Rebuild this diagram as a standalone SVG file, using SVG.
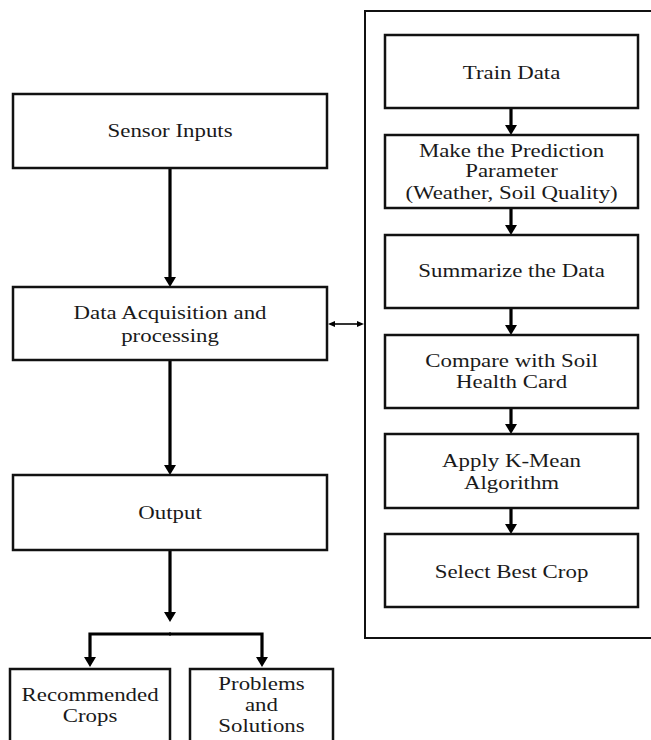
<svg xmlns="http://www.w3.org/2000/svg" width="651" height="740" viewBox="0 0 651 740">
<style>
.box{fill:#fff;stroke:#111;stroke-width:2.5}
.frame{fill:none;stroke:#111;stroke-width:2}
.thick{fill:none;stroke:#000;stroke-width:3.2}
.thin{fill:none;stroke:#000;stroke-width:1.6}
text{font-family:"Liberation Serif","Times New Roman",serif;font-size:18px;fill:#1a1a1a;text-anchor:middle}
</style>
<defs>
<marker id="ah" viewBox="0 0 10 12" markerWidth="10" markerHeight="12" refX="1" refY="6" orient="auto" markerUnits="userSpaceOnUse">
<path d="M0,0 L10,6 L0,12 z" fill="#000"/>
</marker>
<marker id="sh" viewBox="0 0 7 6" markerWidth="7" markerHeight="6" refX="1" refY="3" orient="auto-start-reverse" markerUnits="userSpaceOnUse">
<path d="M0,0 L7,3 L0,6 z" fill="#000"/>
</marker>
</defs>
<rect width="651" height="740" fill="#fff"/>
<g id="container"><rect class="frame" x="365" y="11" width="300" height="627"/></g>
<g id="connectors">
<line class="thick" x1="170" y1="168" x2="170" y2="278" marker-end="url(#ah)"/>
<line class="thick" x1="170" y1="360" x2="170" y2="466" marker-end="url(#ah)"/>
<line class="thick" x1="170" y1="550" x2="170" y2="613" marker-end="url(#ah)"/>
<path class="thick" d="M171,634 H90 V658" marker-end="url(#ah)"/>
<path class="thick" d="M169,634 H262 V658" marker-end="url(#ah)"/>
<line class="thin" x1="334" y1="324" x2="358" y2="324" marker-start="url(#sh)" marker-end="url(#sh)"/>
<line class="thick" x1="511" y1="108" x2="511" y2="126" marker-end="url(#ah)"/>
<line class="thick" x1="511" y1="208" x2="511" y2="226" marker-end="url(#ah)"/>
<line class="thick" x1="511" y1="308" x2="511" y2="326" marker-end="url(#ah)"/>
<line class="thick" x1="511" y1="408" x2="511" y2="425" marker-end="url(#ah)"/>
<line class="thick" x1="511" y1="508" x2="511" y2="525" marker-end="url(#ah)"/>
</g>
<g id="sensor"><rect class="box" x="13" y="94" width="314" height="74"/></g>
<g id="acq"><rect class="box" x="13" y="287" width="314" height="73"/></g>
<g id="output"><rect class="box" x="13" y="475" width="314" height="75"/></g>
<g id="recommended"><rect class="box" x="10" y="669" width="160" height="90"/></g>
<g id="problems"><rect class="box" x="190" y="669" width="143" height="90"/></g>
<g id="train"><rect class="box" x="385" y="35" width="253" height="73"/></g>
<g id="predict"><rect class="box" x="385" y="135" width="253" height="73"/></g>
<g id="summarize"><rect class="box" x="385" y="235" width="253" height="73"/></g>
<g id="compare"><rect class="box" x="385" y="335" width="253" height="73"/></g>
<g id="kmean"><rect class="box" x="385" y="434" width="253" height="74"/></g>
<g id="select"><rect class="box" x="385" y="534" width="253" height="73"/></g>
<g id="labels" transform="scale(1.27 1)">
<text x="133.9" y="137">Sensor Inputs</text>
<text x="133.9" y="319">Data Acquisition and</text>
<text x="133.9" y="342">processing</text>
<text x="133.9" y="519">Output</text>
<text x="70.9" y="701">Recommended</text>
<text x="70.9" y="722">Crops</text>
<text x="205.9" y="690">Problems</text>
<text x="205.9" y="711">and</text>
<text x="205.9" y="732">Solutions</text>
<text x="402.8" y="79">Train Data</text>
<text x="402.8" y="157">Make the Prediction</text>
<text x="402.8" y="177">Parameter</text>
<text x="402.8" y="199">(Weather, Soil Quality)</text>
<text x="402.8" y="277">Summarize the Data</text>
<text x="402.8" y="367">Compare with Soil</text>
<text x="402.8" y="388">Health Card</text>
<text x="402.8" y="467">Apply K-Mean</text>
<text x="402.8" y="489">Algorithm</text>
<text x="402.8" y="578">Select Best Crop</text>
</g>
</svg>
